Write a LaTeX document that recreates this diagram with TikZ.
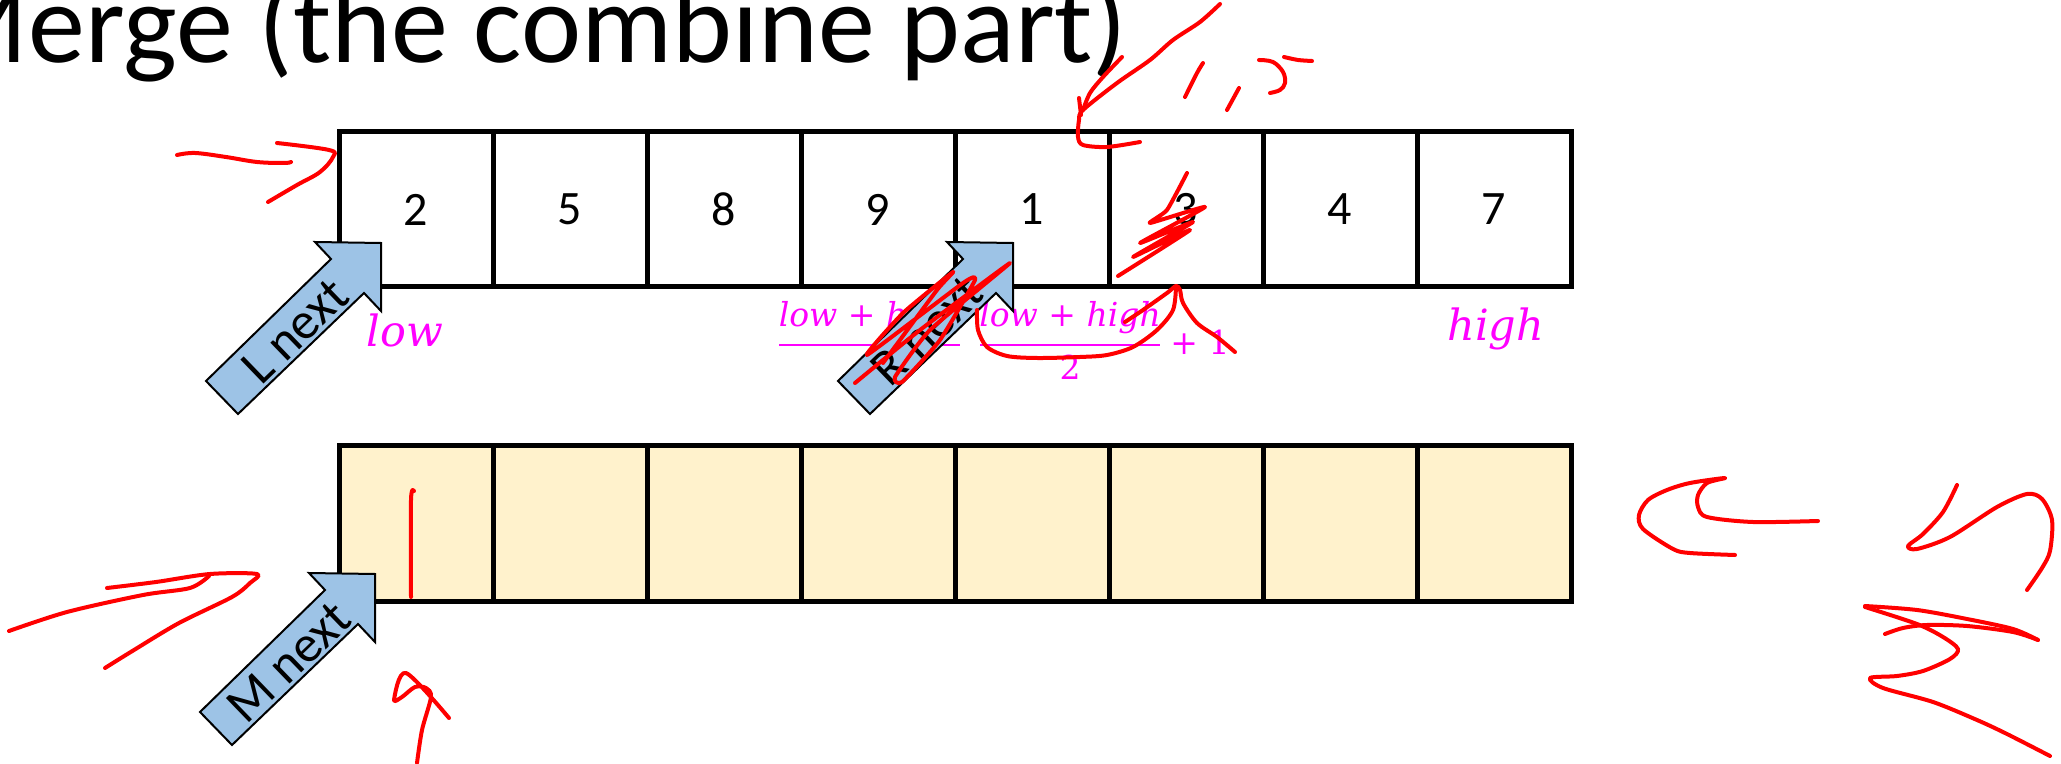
\documentclass[tikz,border=0pt]{standalone}
\usepackage{fontspec}
\setmainfont{Carlito}
\newfontfamily\dvs{DejaVu Serif}
\definecolor{arrowblue}{HTML}{9DC3E6}
\definecolor{cellfill}{HTML}{FFF2CC}
\definecolor{inkred}{HTML}{FF0000}
\definecolor{mag}{HTML}{FF00FF}
\tikzset{
  cell/.style={draw=black, line width=2.5pt, minimum width=77pt, minimum height=77.5pt, inner sep=0pt, font=\fontsize{24}{28}\selectfont},
  lowcell/.style={cell, fill=cellfill},
  blockarrow/.style={draw=black, line width=1pt, fill=arrowblue, line join=miter},
  arrowtext/.style={rotate=44, font=\fontsize{26}{30}\selectfont, inner sep=0pt},
  ink/.style={draw=inkred, line width=2pt, line cap=round, line join=round},
  biglabel/.style={text=mag, inner sep=0pt, anchor=base west, font=\fontsize{21.5}{24}\dvs\itshape},
  fracpart/.style={text=mag, inner sep=0pt, anchor=base, font=\fontsize{16.5}{20}\dvs},
  fracbar/.style={draw=mag, line width=1.4pt},
}
\begin{document}
\begin{tikzpicture}[x=0.5pt, y=-0.5pt]
\useasboundingbox (0,0) rectangle (2061,764);
\clip (0,0) rectangle (2061,764);
\fill[white] (0,0) rectangle (2061,764);

% title
\node[anchor=base east, inner sep=0pt, font=\fontsize{57}{60}\selectfont] (title) at (1128,63) {Merge (the combine part)};

% top array
\foreach \v [count=\i from 0] in {2,5,8,9,1,3,4,7} {
  \node[cell] (t\i) at (416+154*\i,209.5) {\v};
}
% bottom array
\foreach \i in {0,...,7} {
  \node[lowcell] (b\i) at (416+154*\i,523.5) {};
}

% magenta labels
\node[biglabel] (low) at (366,347) {low};
\node[biglabel] (high) at (1447,341) {high};
% first fraction
\coordinate (f1a) at (779,345);
\coordinate (f1b) at (960,345);
\draw[fracbar] (f1a) -- (f1b);
\node[fracpart] (f1num) at (869.5,327) {{\itshape low} + {\itshape high}};
\node[fracpart] (f1den) at (869.5,380) {2};
% second fraction
\coordinate (f2a) at (980,345);
\coordinate (f2b) at (1160,345);
\draw[fracbar] (f2a) -- (f2b);
\node[fracpart] (f2num) at (1070,327) {{\itshape low} + {\itshape high}};
\node[fracpart] (f2den) at (1070,380) {2};
\node[fracpart, anchor=base west] (plus1) at (1170,355) {+ 1};

% block arrows
\draw[blockarrow] (206,381) -- (331,259) -- (315,242) -- (381,243) -- (381,311) -- (364,293) -- (238,414) -- cycle;
\node[arrowtext] (lnext) at (295,331) {L next};
\begin{scope}[shift={(632,0)}]
\draw[blockarrow] (206,381) -- (331,259) -- (315,242) -- (381,243) -- (381,311) -- (364,293) -- (238,414) -- cycle;
\node[arrowtext] (rnext) at (295,331) {R next};
\end{scope}
\begin{scope}[shift={(-6,331)}]
\draw[blockarrow] (206,381) -- (331,259) -- (315,242) -- (381,243) -- (381,311) -- (364,293) -- (238,414) -- cycle;
\node[arrowtext] (mnext) at (295,331) {M next};
\end{scope}

% red ink
\draw[ink] plot[smooth, tension=0.6] coordinates {(177,155) (195,153) (226,157) (257,162) (284,163) (291,162)};
\draw[ink] plot[smooth, tension=0.6] coordinates {(277,143) (329,150) (333,157) (320,172) (297,185) (268,202)};
\draw[ink] plot[smooth, tension=0.5] coordinates {(1220,4) (1200,22) (1173,40) (1150,60) (1117,83) (1083,110) (1079,120) (1078,137) (1083,145) (1107,147) (1140,142)};
\draw[ink] plot[smooth, tension=0.5] coordinates {(1122,57) (1103,77) (1090,93) (1083,110)};
\draw[ink] (1079,98) -- (1081,115);
\draw[ink] plot[smooth, tension=0.5] coordinates {(1203,63) (1197,73) (1185,97)};
\draw[ink] (1239,88) -- (1227,110);
\draw[ink] plot[smooth, tension=0.6] coordinates {(1259,60) (1273,62) (1283,72) (1285,83) (1280,90) (1270,93)};
\draw[ink] plot[smooth, tension=0.5] coordinates {(1284,57) (1298,60) (1312,61)};
\draw[ink] plot[smooth, tension=0.3] coordinates {(1187,173) (1167,210) (1150,223) (1205,207) (1140,243) (1193,222) (1133,257) (1190,230) (1118,276)};
\draw[ink] plot[smooth, tension=0.5] coordinates {(1235,352) (1217,337) (1197,323) (1183,303) (1180,290) (1176,286) (1167,293) (1143,310) (1125,322)};
\draw[ink] plot[smooth, tension=0.5] coordinates {(1176,286) (1173,310) (1157,330) (1133,347) (1107,355) (1080,357) (1037,358) (1007,356) (987,347) (978,330) (977,310)};
\draw[ink] plot[smooth, tension=0.3] coordinates {(855,383) (920,330) (1010,263) (930,330) (895,377) (902,382) (940,340) (975,280) (963,283) (867,355) (903,313) (953,272) (937,290) (883,363)};
\draw[ink] plot[smooth, tension=0.5] coordinates {(414,491) (411,500) (411,597)};
\draw[ink] plot[smooth, tension=0.5] coordinates {(107,588) (156,582) (210,574) (257,574) (250,583) (232,597) (179,623) (134,650) (105,668)};
\draw[ink] plot[smooth, tension=0.5] coordinates {(9,631) (67,612) (143,595) (190,588) (209,576)};
\draw[ink] plot[smooth, tension=0.5] coordinates {(417,763) (422,730) (431,697) (426,688) (415,687) (402,697) (394,700) (406,673) (449,718)};
\draw[ink] plot[smooth, tension=0.5] coordinates {(1818,521) (1753,522) (1707,517) (1698,507) (1698,495) (1707,483) (1725,478) (1690,483) (1667,490) (1648,500) (1639,515) (1643,529) (1673,549) (1690,553) (1735,555)};
\draw[ink] plot[smooth, tension=0.5] coordinates {(1957,485) (1943,512) (1923,534) (1908,546) (1917,549) (1950,537) (1997,507) (2027,494) (2042,499) (2052,520) (2050,551) (2042,568) (2027,590)};
\draw[ink] plot[smooth, tension=0.5] coordinates {(1865,606) (1917,610) (1967,619) (2013,629) (2038,640)};
\draw[ink] plot[smooth, tension=0.5] coordinates {(1885,634) (1903,628) (1927,625) (1967,626) (2013,632) (2038,640)};
\draw[ink] plot[smooth, tension=0.5] coordinates {(1865,607) (1917,624) (1943,637) (1958,649) (1950,659) (1923,671) (1897,676) (1870,678) (1883,688) (1933,702) (1977,720) (2007,734) (2050,756)};
\end{tikzpicture}
\end{document}
